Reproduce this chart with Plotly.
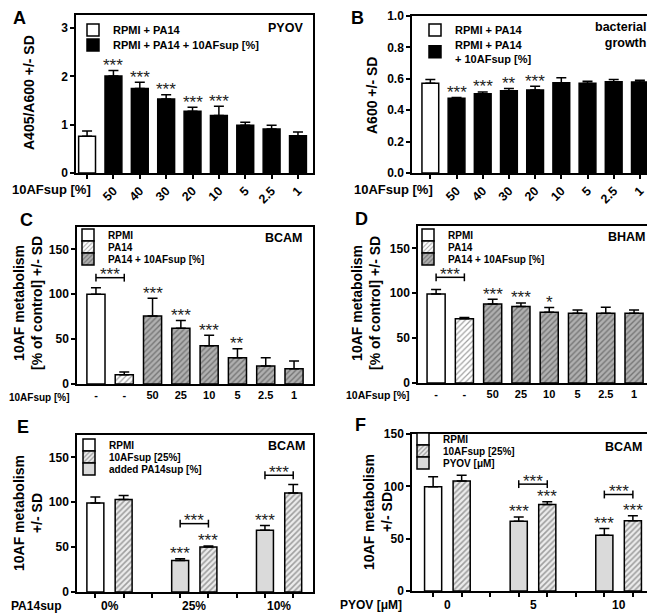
import plotly.graph_objects as go

# the page body has an 8px margin, so the figure is drawn 8px smaller and offset
OFF = 8
W, H = 655 - OFF, 614 - OFF

# ---------------- data ----------------
# A: pyoverdine production (A405/A600)
a_ticks = ["", "50", "40", "30", "20", "10", "5", "2.5", "1"]
a_ctrl = [0.76]
a_ctrl_sd = [0.11]
a_sup = [2.01, 1.75, 1.53, 1.28, 1.19, 0.99, 0.91, 0.77]
a_sup_sd = [0.11, 0.13, 0.09, 0.08, 0.19, 0.06, 0.08, 0.08]
a_stars = ["***", "***", "***", "***", "***", "", "", ""]

# B: bacterial growth (A600)
b_ctrl = [0.571]
b_ctrl_sd = [0.025]
b_sup = [0.476, 0.505, 0.524, 0.529, 0.575, 0.571, 0.581, 0.579]
b_sup_sd = [0.005, 0.011, 0.015, 0.023, 0.032, 0.013, 0.015, 0.011]
b_stars = ["***", "***", "**", "***", "", "", "", ""]

# C: BCAM, 10AF metabolism
cd_ticks = ["-", "-", "50", "25", "10", "5", "2.5", "1"]
c_rpmi, c_rpmi_sd = [100.0], [7.4]
c_pa14, c_pa14_sd = [10.4], [3.0]
c_sup = [75.9, 62.2, 42.6, 29.3, 20.0, 17.0]
c_sup_sd = [19.6, 8.5, 11.8, 10.0, 9.3, 8.5]
c_stars = ["***", "***", "***", "**", "", ""]
c_bracket = 118.5

# D: BHAM, 10AF metabolism
d_rpmi, d_rpmi_sd = [99.3], [4.8]
d_pa14, d_pa14_sd = [71.5], [1.5]
d_sup = [88.1, 85.2, 78.9, 77.8, 77.8, 77.8]
d_sup_sd = [5.2, 4.1, 5.2, 3.7, 6.6, 3.7]
d_stars = ["***", "***", "*", "", "", ""]
d_bracket = 117.8

# E: BCAM + added PA14sup
e_groups = ["0%", "25%", "10%"]
e_rpmi, e_rpmi_sd = [99.3], [6.7]
e_af = [103.0, 50.2, 110.4]
e_af_sd = [4.5, 1.1, 9.3]
e_af_stars = ["", "***", ""]
e_add = [35.0, 68.8]
e_add_sd = [2.2, 5.2]
e_add_stars = ["***", "***"]
e_brackets = [76.2, 130.1]

# F: BCAM + PYOV
f_groups = ["0", "5", "10"]
f_rpmi, f_rpmi_sd = [99.6], [9.5]
f_af = [105.0, 82.6, 67.0]
f_af_sd = [5.7, 2.6, 4.8]
f_af_stars = ["", "***", "***"]
f_pyov = [66.7, 53.3]
f_pyov_sd = [4.1, 6.4]
f_pyov_stars = ["***", "***"]
f_brackets = [102.1, 92.2]

FONT = "Liberation Sans, Arial, sans-serif"
WHITE = "white"
LIGHT_HATCH = dict(shape="/", bgcolor="white", fgcolor="#444", size=4, solidity=0.3)
DARK_HATCH = dict(shape="/", bgcolor="#b0b0b0", fgcolor="#3a3a3a", size=4, solidity=0.35)
EF_HATCH = dict(shape="/", bgcolor="#ececec", fgcolor="#505050", size=4, solidity=0.4)
GREY = "#dadada"
STAR_SIZE = 17


def px(x):
    return (x - OFF) / W


def py(y):
    return 1 - (y - OFF) / H


fig = go.Figure()
legend_n = [0]


def add_bars(n, x, y, sd, name, fill, pattern, width, leg_xy, font_size):
    legend_n[0] += 1
    lid = "legend" if legend_n[0] == 1 else f"legend{legend_n[0]}"
    marker = dict(color=fill, line=dict(color="black", width=1.5))
    if pattern:
        marker["pattern"] = pattern
    fig.add_trace(go.Bar(
        x=x, y=y, name=name, width=width, marker=marker,
        xaxis=f"x{n}", yaxis=f"y{n}", legend=lid,
        error_y=dict(type="data", array=sd, arrayminus=[0] * len(sd), symmetric=False,
                     color="black", thickness=1.5, width=5),
    ))
    # legend text starts 40px right of the legend's left edge
    fig.update_layout({lid: dict(x=px(leg_xy[0] - 40), y=py(leg_xy[1]), xanchor="left", yanchor="middle",
                                 bgcolor="rgba(0,0,0,0)", borderwidth=0,
                                 font=dict(family=FONT, size=font_size, color="black", weight="bold"))})


def star_note(n, x, y, text, shift):
    # asterisks sit high in the line box, so the box is centred a little below the glyphs
    if not text:
        return
    fig.add_annotation(text=text, x=x, y=y, xref=f"x{n}", yref=f"y{n}", showarrow=False,
                       xanchor="center", yanchor="middle", yshift=shift, borderpad=0,
                       font=dict(family=FONT, size=STAR_SIZE, color="#222"))


def add_stars(n, x, y, sd, stars):
    for xi, v, e, s in zip(x, y, sd, stars):
        star_note(n, xi, v + e, s, 5)


def add_bracket(n, x0, x1, yb, ymax):
    h = ymax * 0.025
    fig.add_trace(go.Scatter(x=[x0, x0, None, x0, x1, None, x1, x1],
                             y=[yb - h, yb + h, None, yb, yb, None, yb - h, yb + h],
                             mode="lines", line=dict(color="black", width=1.5),
                             xaxis=f"x{n}", yaxis=f"y{n}", showlegend=False, hoverinfo="skip"))
    star_note(n, (x0 + x1) / 2, yb, "***", 3)


def setup_axes(n, xdom, ydom, xrange, yrange, tickvals, ticktext, ytickvals, yfmt,
               xticks, tickangle, xfont, yfont):
    sfx = "" if n == 1 else str(n)
    fig.update_layout({
        f"xaxis{sfx}": dict(domain=[px(xdom[0]), px(xdom[1])], range=xrange, anchor=f"y{n}",
                            tickvals=tickvals, ticktext=ticktext, ticks=xticks, ticklen=4,
                            tickwidth=1.5, tickcolor="black", tickangle=tickangle,
                            showline=True, mirror=True, linecolor="black", linewidth=1.5,
                            showgrid=False, zeroline=False, fixedrange=True, automargin=False,
                            tickfont=dict(family=FONT, size=xfont, color="black", weight="bold")),
        f"yaxis{sfx}": dict(domain=[py(ydom[1]), py(ydom[0])], range=yrange, anchor=f"x{n}",
                            tickvals=ytickvals, tickformat=yfmt, ticks="outside", ticklen=4,
                            tickwidth=1.5, tickcolor="black",
                            showline=True, mirror=True, linecolor="black", linewidth=1.5,
                            showgrid=False, zeroline=False, fixedrange=True, automargin=False,
                            tickfont=dict(family=FONT, size=yfont, color="black", weight="bold")),
    })


def note(text, x, y, size, xanchor="center", angle=0, xref="paper", yref="paper"):
    fig.add_annotation(text=text, x=x, y=y, xref=xref, yref=yref, showarrow=False,
                       xanchor=xanchor, yanchor="middle", textangle=angle,
                       font=dict(family=FONT, size=size, color="black", weight="bold"))


# ---------------- A ----------------
ax = list(range(1, len(a_sup) + 1))
add_bars(1, [0], a_ctrl, a_ctrl_sd, "RPMI + PA14", WHITE, None, 0.64, (113, 30), 11)
add_bars(1, ax, a_sup, a_sup_sd, "RPMI + PA14 + 10AFsup [%]", "black", None, 0.64, (113, 45), 11)
add_stars(1, ax, a_sup, a_sup_sd, a_stars)
setup_axes(1, (76, 313), (15, 173), [-0.42, 8.57], [0, 3.27], list(range(len(a_ticks))), a_ticks,
           [0, 1, 2, 3], None, "outside", -45, 12.5, 12)

# ---------------- B ----------------
bx = list(range(1, len(b_sup) + 1))
add_bars(2, [0], b_ctrl, b_ctrl_sd, "RPMI + PA14", WHITE, None, 0.64, (455, 30), 11)
add_bars(2, bx, b_sup, b_sup_sd, "RPMI + PA14<br>+ 10AFsup [%]", "black", None, 0.64, (455, 52), 11)
add_stars(2, bx, b_sup, b_sup_sd, b_stars)
setup_axes(2, (412, 653), (16, 173), [-0.7, 8.5], [0, 1.0], list(range(len(a_ticks))), a_ticks,
           [0, 0.2, 0.4, 0.6, 0.8, 1.0], ".1f", "outside", -45, 12.5, 12)

# ---------------- C ----------------
cx = list(range(2, 2 + len(c_sup)))
add_bars(3, [0], c_rpmi, c_rpmi_sd, "RPMI", WHITE, None, 0.64, (108, 235), 10)
add_bars(3, [1], c_pa14, c_pa14_sd, "PA14", WHITE, LIGHT_HATCH, 0.64, (108, 247), 10)
add_bars(3, cx, c_sup, c_sup_sd, "PA14 + 10AFsup [%]", "#b0b0b0", DARK_HATCH, 0.64, (108, 259), 10)
add_stars(3, cx, c_sup, c_sup_sd, c_stars)
add_bracket(3, 0, 1, c_bracket, 175)
setup_axes(3, (77, 313), (227, 384), [-0.67, 7.67], [0, 175], list(range(len(cd_ticks))), cd_ticks,
           [0, 50, 100, 150], None, "", 0, 11, 12)

# ---------------- D ----------------
dx = list(range(2, 2 + len(d_sup)))
add_bars(4, [0], d_rpmi, d_rpmi_sd, "RPMI", WHITE, None, 0.64, (448, 235), 10)
add_bars(4, [1], d_pa14, d_pa14_sd, "PA14", WHITE, LIGHT_HATCH, 0.64, (448, 247), 10)
add_bars(4, dx, d_sup, d_sup_sd, "PA14 + 10AFsup [%]", "#b0b0b0", DARK_HATCH, 0.64, (448, 259), 10)
add_stars(4, dx, d_sup, d_sup_sd, d_stars)
add_bracket(4, 0, 1, d_bracket, 175)
setup_axes(4, (418, 653), (226, 383), [-0.64, 7.67], [0, 175], list(range(len(cd_ticks))), cd_ticks,
           [0, 50, 100, 150], None, "", 0, 11, 12)

# ---------------- E ----------------
e_af_x = [3 * g + 1 for g in range(len(e_af))]
e_add_x = [3 * g for g in range(1, len(e_add) + 1)]
add_bars(5, [0], e_rpmi, e_rpmi_sd, "RPMI", WHITE, None, 0.6, (109, 445), 10)
add_bars(5, e_af_x, e_af, e_af_sd, "10AFsup [25%]", "#ececec", EF_HATCH, 0.6, (109, 457), 10)
add_bars(5, e_add_x, e_add, e_add_sd, "added PA14sup [%]", GREY, None, 0.6, (109, 469), 10)
add_stars(5, e_af_x, e_af, e_af_sd, e_af_stars)
add_stars(5, e_add_x, e_add, e_add_sd, e_add_stars)
for xa, xb, yb in zip(e_add_x, e_af_x[1:], e_brackets):
    add_bracket(5, xa, xb, yb, 175)
setup_axes(5, (77, 313), (435, 592), [-0.65, 7.7], [0, 175], list(range(8)), [""] * 8,
           [0, 50, 100, 150], None, "outside", 0, 12, 12)
for g, lab in enumerate(e_groups):
    note(lab, 3 * g + 0.5, py(606), 12, xref="x5")

# ---------------- F ----------------
f_af_x = [3 * g + 1 for g in range(len(f_af))]
f_pyov_x = [3 * g for g in range(1, len(f_pyov) + 1)]
add_bars(6, [0], f_rpmi, f_rpmi_sd, "RPMI", WHITE, None, 0.6, (443, 439), 10)
add_bars(6, f_af_x, f_af, f_af_sd, "10AFsup [25%]", "#ececec", EF_HATCH, 0.6, (443, 451), 10)
add_bars(6, f_pyov_x, f_pyov, f_pyov_sd, "PYOV [μM]", GREY, None, 0.6, (443, 463), 10)
add_stars(6, f_af_x, f_af, f_af_sd, f_af_stars)
add_stars(6, f_pyov_x, f_pyov, f_pyov_sd, f_pyov_stars)
for xa, xb, yb in zip(f_pyov_x, f_af_x[1:], f_brackets):
    add_bracket(6, xa, xb, yb, 150)
setup_axes(6, (412, 650), (434, 591), [-0.74, 7.6], [0, 150], list(range(8)), [""] * 8,
           [0, 50, 100, 150], None, "outside", 0, 12, 12)
for g, lab in enumerate(f_groups):
    note(lab, 3 * g + 0.5, py(605), 12, xref="x6")

# ---------------- text ----------------
for letter, (lx, ly) in zip("ABCDEF", [(19, 18), (357, 18), (26, 220), (361, 219), (23, 427), (360, 425)]):
    note(letter, px(lx), py(ly), 18)

for txt, (tx, ty) in zip(["PYOV", "bacterial<br>growth", "BCAM", "BHAM", "BCAM", "BCAM"],
                         [(305, 28), (648, 35), (305, 238), (648, 237), (308, 446), (645, 447)]):
    fig.add_annotation(text=txt, x=px(tx), y=py(ty), xref="paper", yref="paper", showarrow=False,
                       xanchor="right", yanchor="middle", align="right",
                       font=dict(family=FONT, size=12.5, color="black", weight="bold"))

ytitles = ["A405/A600 +/- SD", "A600 +/- SD",
           "10AF metabolism<br>[% of control] +/- SD", "10AF metabolism<br>[% of control] +/- SD",
           "10AF metabolism<br>+/- SD", "10AF metabolism<br>+/- SD"]
for txt, (tx, ty) in zip(ytitles, [(29, 93), (372, 95), (28, 303), (366, 303), (28, 513), (378, 512)]):
    note(txt, px(tx), py(ty), 14, angle=-90)

for txt, (tx, ty), size in zip(["10AFsup [%]", "10AFsup [%]", "10AFsup [%]", "10AFsup [%]", "PA14sup", "PYOV [μM]"],
                               [(93, 190), (435, 190), (72, 397), (412, 395), (63, 606), (404, 605)],
                               [13, 13, 10, 10.5, 12, 12]):
    note(txt, px(tx), py(ty), size, xanchor="right")

fig.update_layout(width=W, height=H, margin=dict(l=0, r=0, t=0, b=0, autoexpand=False),
                  paper_bgcolor="white", plot_bgcolor="white", barmode="overlay",
                  showlegend=True, font=dict(family=FONT, color="black"))

fig.write_html("out.html")
